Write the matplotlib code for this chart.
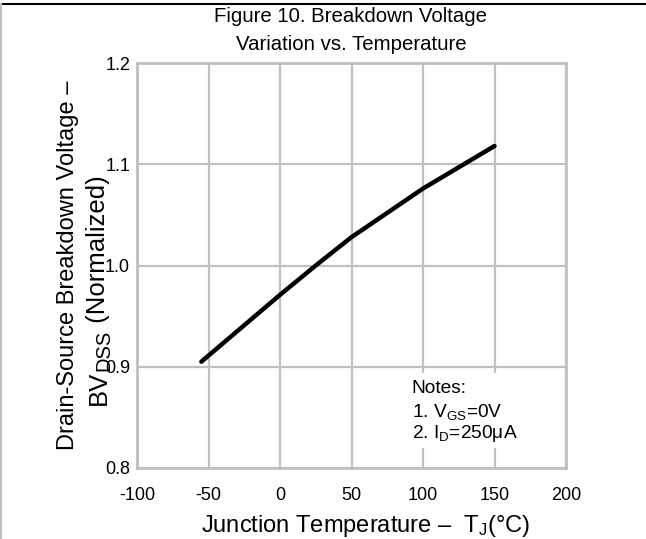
import matplotlib
matplotlib.use("Agg")
import matplotlib.pyplot as plt
from matplotlib.lines import Line2D
from matplotlib.patches import Rectangle

plt.rcParams['font.family'] = ['Liberation Sans', 'DejaVu Sans']
plt.rcParams['mathtext.fontset'] = 'custom'
plt.rcParams['mathtext.rm'] = 'Liberation Sans'
plt.rcParams['mathtext.it'] = 'Liberation Sans'
plt.rcParams['axes.unicode_minus'] = False

# data
temp_c = [-55, -50, 0, 25, 50, 100, 150]
bv_norm = [0.905, 0.911, 0.971, 1.000, 1.028, 1.076, 1.118]
x_ticks = [-100, -50, 0, 50, 100, 150, 200]
y_ticks = [0.8, 0.9, 1.0, 1.1, 1.2]
y_tick_labels = ["0.8", "0.9", "1.0", "1.1", "1.2"]

W, H = 646, 539
fig = plt.figure(figsize=(W / 100, H / 100), dpi=100)

def fx(px):
    return px / W

def fy(py):
    return 1 - py / H

ax = fig.add_axes([fx(137), fy(468), (566 - 137) / W, (468 - 63) / H])
grid_c = '#c0c0c0'
ax.set_xlim(-100, 200)
ax.set_ylim(0.8, 1.2)
ax.set_xticks(x_ticks)
ax.set_yticks(y_ticks)
ax.set_yticklabels(y_tick_labels)
ax.grid(True, color=grid_c, linewidth=1.6)
ax.set_axisbelow(True)
for s in ax.spines.values():
    s.set_color(grid_c)
    s.set_linewidth(2.0)
ax.tick_params(axis='y', length=0, labelsize=13, pad=5)
ax.tick_params(axis='x', length=0, labelsize=13, pad=14)

ax.plot(temp_c, bv_norm, color='black', linewidth=3.2, solid_capstyle='round', zorder=3)

# notes box (masks grid)
ax.add_patch(Rectangle((88, 0.8195), 100, 0.074, transform=ax.transData,
                       facecolor='white', edgecolor='none', zorder=2))
note_fs = 13.8
ax.text(0.640, 0.1975, "Notes:", transform=ax.transAxes, fontsize=note_fs, va='center', zorder=4)
ax.text(0.640, 0.138, r"1. V$_{\mathregular{GS}}$=0V", transform=ax.transAxes, fontsize=note_fs, va='center', zorder=4)
ax.text(0.640, 0.084, r"2. I$_{\mathregular{D}}$=250μA", transform=ax.transAxes, fontsize=note_fs, va='center', zorder=4)

# title
fig.text(fx(351), fy(17), "Figure 10. Breakdown Voltage", ha='center', va='center', fontsize=14.7)
fig.text(fx(351), fy(45), "Variation vs. Temperature", ha='center', va='center', fontsize=14.7)

# axis labels
fig.text(fx(366), fy(526), r"Junction Temperature –  T$_{\mathregular{J}}$(°C)", ha='center', va='center', fontsize=17)
fig.text(fx(68), fy(265), "Drain-Source Breakdown Voltage –", ha='center', va='center', rotation=90, fontsize=17)

# second y-label line built from pieces (larger subscript as in the reference)
main_fs, sub_fs = 18.5, 14.5
pieces = [("BV", main_fs, 0.0), ("DSS", sub_fs, 4.0), (" (Normalized)", main_fs, 0.0)]
renderer = fig.canvas.get_renderer()
lens = []
for txt, fs, _ in pieces:
    t = fig.text(0, 0, txt, fontsize=fs)
    lens.append(t.get_window_extent(renderer).width)
    t.remove()
total = sum(lens)
center_y = 290.0
baseline_x = 105.5
cur = center_y + total / 2.0
for (txt, fs, shift), ln in zip(pieces, lens):
    fig.text(fx(baseline_x + shift), fy(cur), txt, fontsize=fs, rotation=90,
             rotation_mode='anchor', ha='left', va='baseline')
    cur -= ln

# page borders
fig.add_artist(Line2D([0, 1], [fy(4), fy(4)], transform=fig.transFigure, color='black', linewidth=1.5))
fig.add_artist(Line2D([fx(1), fx(1)], [fy(4), 0], transform=fig.transFigure, color='#c0c0c0', linewidth=1.5))

fig.savefig("out.png", dpi=100)
